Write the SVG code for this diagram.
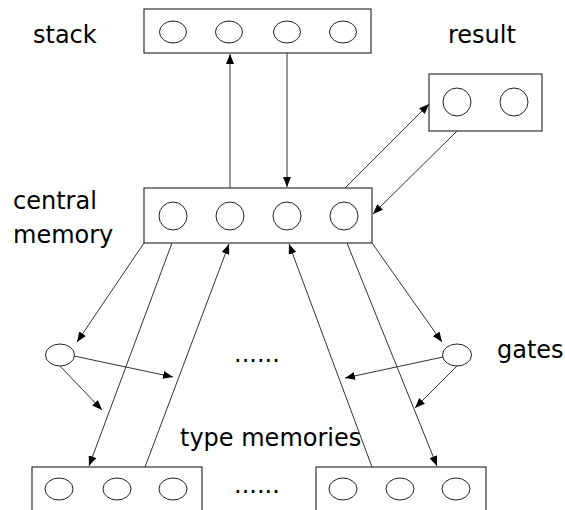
<svg xmlns="http://www.w3.org/2000/svg" width="565" height="510" viewBox="0 0 565 510">
  <style>
    .box { fill: #ffffff; stroke: #333333; stroke-width: 1.2; }
    .cell { fill: #ffffff; stroke: #222222; stroke-width: 1; }
    .link { fill: none; stroke: #333333; stroke-width: 1; }
    .label { font-family: "DejaVu Sans", Verdana, sans-serif; font-size: 24px; fill: #000000; }
  </style>
  <defs>
    <marker id="arrow" viewBox="0 0 10 8" refX="10" refY="4" markerWidth="10" markerHeight="8" markerUnits="userSpaceOnUse" orient="auto">
      <path d="M0,0 L10,4 L0,8 z" fill="#000000"/>
    </marker>
  </defs>

  <rect width="565" height="510" fill="#ffffff"/>

  <!-- labels -->
  <text class="label" x="33" y="43">stack</text>
  <text class="label" x="448" y="43">result</text>
  <text class="label" x="13" y="209">central</text>
  <text class="label" x="13" y="243">memory</text>
  <text class="label" x="497" y="358">gates</text>
  <text class="label" x="180" y="446">type memories</text>
  <text class="label" x="234" y="362">......</text>
  <text class="label" x="234" y="493">......</text>

  <!-- stack -->
  <g id="stack">
    <rect class="box" x="144" y="9" width="227" height="44"/>
    <ellipse class="cell" cx="173" cy="32" rx="13.5" ry="11"/>
    <ellipse class="cell" cx="229" cy="32" rx="13.5" ry="11"/>
    <ellipse class="cell" cx="287" cy="32" rx="13.5" ry="11"/>
    <ellipse class="cell" cx="343" cy="32" rx="13.5" ry="11"/>
  </g>

  <!-- result -->
  <g id="result">
    <rect class="box" x="429" y="74" width="113" height="57"/>
    <circle class="cell" cx="457" cy="102" r="14"/>
    <circle class="cell" cx="514" cy="102" r="14"/>
  </g>

  <!-- central memory -->
  <g id="central-memory">
    <rect class="box" x="144" y="188" width="228" height="55"/>
    <circle class="cell" cx="173" cy="216" r="14"/>
    <circle class="cell" cx="230" cy="216" r="14"/>
    <circle class="cell" cx="287" cy="216" r="14"/>
    <circle class="cell" cx="344" cy="216" r="14"/>
  </g>

  <!-- gates -->
  <g id="gate-left">
    <ellipse class="cell" cx="60" cy="355" rx="14.5" ry="11"/>
  </g>
  <g id="gate-right">
    <ellipse class="cell" cx="457" cy="355" rx="14.5" ry="11"/>
  </g>

  <!-- type memories -->
  <g id="type-memory-left">
    <rect class="box" x="32" y="467" width="170" height="60"/>
    <ellipse class="cell" cx="59" cy="489" rx="14" ry="11"/>
    <ellipse class="cell" cx="117" cy="489" rx="14" ry="11"/>
    <ellipse class="cell" cx="173" cy="489" rx="14" ry="11"/>
  </g>
  <g id="type-memory-right">
    <rect class="box" x="316" y="467" width="170" height="60"/>
    <ellipse class="cell" cx="343" cy="489" rx="14" ry="11"/>
    <ellipse class="cell" cx="400" cy="489" rx="14" ry="11"/>
    <ellipse class="cell" cx="456" cy="489" rx="14" ry="11"/>
  </g>

  <!-- connectors -->
  <g id="connectors">
    <line class="link" x1="230" y1="188" x2="230" y2="54" marker-end="url(#arrow)"/>
    <line class="link" x1="287" y1="53" x2="287" y2="187" marker-end="url(#arrow)"/>
    <line class="link" x1="345" y1="188" x2="429" y2="104" marker-end="url(#arrow)"/>
    <line class="link" x1="457" y1="131" x2="373" y2="214" marker-end="url(#arrow)"/>

    <line class="link" x1="144" y1="243" x2="77" y2="342" marker-end="url(#arrow)"/>
    <line class="link" x1="172" y1="243" x2="89" y2="466" marker-end="url(#arrow)"/>
    <line class="link" x1="145" y1="467" x2="229" y2="244" marker-end="url(#arrow)"/>
    <line class="link" x1="372" y1="467" x2="289" y2="244" marker-end="url(#arrow)"/>
    <line class="link" x1="347" y1="243" x2="437" y2="466" marker-end="url(#arrow)"/>
    <line class="link" x1="372" y1="243" x2="442" y2="342" marker-end="url(#arrow)"/>

    <line class="link" x1="74" y1="356" x2="173" y2="377" marker-end="url(#arrow)"/>
    <line class="link" x1="60" y1="366" x2="102" y2="410" marker-end="url(#arrow)"/>
    <line class="link" x1="443" y1="357" x2="345" y2="378" marker-end="url(#arrow)"/>
    <line class="link" x1="457" y1="366" x2="415" y2="408" marker-end="url(#arrow)"/>
  </g>
</svg>
